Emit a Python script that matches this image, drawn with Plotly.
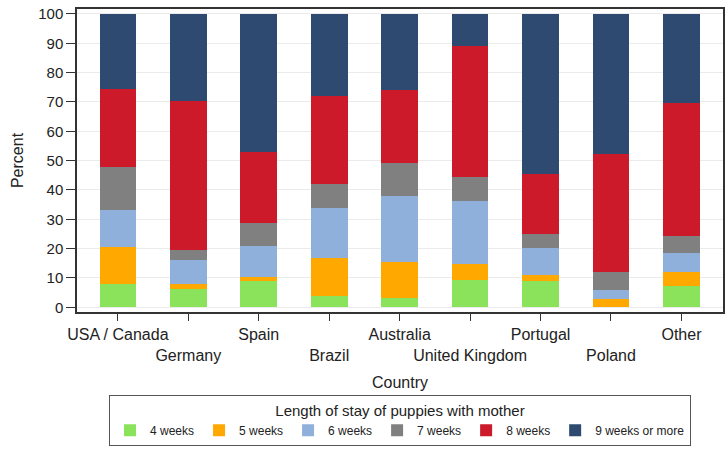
import plotly.graph_objects as go

countries = ["USA / Canada", "Germany", "Spain", "Brazil", "Australia",
             "United Kingdom", "Portugal", "Poland", "Other"]
series_names = ["4 weeks", "5 weeks", "6 weeks", "7 weeks", "8 weeks", "9 weeks or more"]
w4 = [7.8, 6.3, 9.0, 3.7, 3.2, 9.2, 8.9, 0.0, 7.4]
w5 = [12.6, 1.7, 1.3, 13.2, 12.3, 5.5, 2.2, 2.9, 4.6]
w6 = [12.7, 8.1, 10.6, 17.1, 22.4, 21.5, 9.2, 3.1, 6.6]
w7 = [14.8, 3.3, 7.7, 7.9, 11.4, 8.1, 4.6, 6.1, 5.7]
w8 = [26.6, 50.9, 24.2, 30.2, 24.8, 44.9, 20.4, 40.1, 45.4]
w9 = [25.5, 29.7, 47.2, 27.9, 25.9, 10.8, 54.7, 47.8, 30.3]
y_ticks = [0, 10, 20, 30, 40, 50, 60, 70, 80, 90, 100]

colors = ["#8AE35B", "#FFA800", "#8FB0DB", "#808080", "#CC1A2B", "#2E4A71"]
series = [w4, w5, w6, w7, w8, w9]

FONT = "Liberation Sans, Arial, sans-serif"

fig = go.Figure()
for name, vals, col in zip(series_names, series, colors):
    fig.add_trace(go.Bar(x=countries, y=vals, name=name,
                         marker=dict(color=col, line=dict(width=0))))

ticktext = [c if i % 2 == 0 else "<br>" + c for i, c in enumerate(countries)]

fig.update_layout(
    barmode="stack",
    bargap=0.48,
    width=728, height=453,
    margin=dict(l=77, r=5, t=9, b=141),
    paper_bgcolor="white", plot_bgcolor="white",
    font=dict(family=FONT, size=15, color="#222"),
    legend=dict(
        orientation="h",
        x=0.5, xanchor="center",
        y=-0.275, yanchor="top",
        bordercolor="#555", borderwidth=1,
        title=dict(text="Length of stay of puppies with mother", side="top center",
                   font=dict(size=15)),
        font=dict(size=12),
        itemwidth=30,
        traceorder="normal",
        tracegroupgap=0,
    ),
    xaxis=dict(
        tickmode="array", tickvals=countries, ticktext=ticktext,
        tickangle=0, automargin=False,
        range=[-0.58, 8.59],
        showline=True, linecolor="#333", linewidth=1.5, mirror=True,
        ticks="outside", ticklen=7, tickcolor="#333",
        tickfont=dict(size=16),
        title=dict(text="Country", font=dict(size=16), standoff=14),
        showgrid=False,
    ),
    yaxis=dict(
        range=[-1.6, 101.7],
        tickvals=y_ticks, automargin=False,
        showline=True, linecolor="#333", linewidth=1.5, mirror=True,
        ticks="outside", ticklen=9, tickcolor="#333",
        tickfont=dict(size=15),
        showgrid=True, gridcolor="#EBEBEB", gridwidth=1,
        zeroline=False,
        title=dict(text="Percent", font=dict(size=16), standoff=11),
    ),
)

fig.write_html("out.html", config={"displayModeBar": False},
               post_script="document.body.style.margin='0';")
